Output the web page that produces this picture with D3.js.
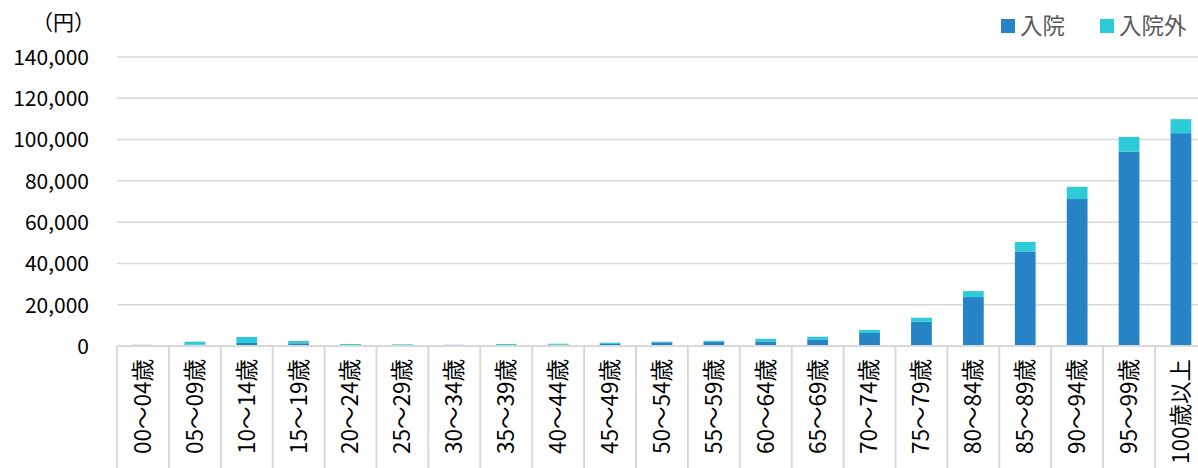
<!DOCTYPE html>
<html>
<head>
<meta charset="utf-8">
<script src="https://cdn.jsdelivr.net/npm/d3@7"></script>
<style>
  html, body { margin: 0; padding: 0; background: #fff; }
  svg { display: block; }
  text { font-family: "Noto Sans CJK JP", "Noto Sans", sans-serif; }
</style>
</head>
<body>
<svg id="chart" width="1198" height="468"></svg>
<script>
// Age groups
const categories = [
  "00～04歳", "05～09歳", "10～14歳", "15～19歳", "20～24歳", "25～29歳", "30～34歳",
  "35～39歳", "40～44歳", "45～49歳", "50～54歳", "55～59歳", "60～64歳", "65～69歳",
  "70～74歳", "75～79歳", "80～84歳", "85～89歳", "90～94歳", "95～99歳", "100歳以上"
];
// Inpatient amounts (円)
const inpatient = [
  100, 650, 1450, 1300, 500, 400, 300,
  500, 650, 970, 1800, 2100, 2200, 3200,
  6300, 11800, 23700, 45800, 71200, 94200, 103100
];
// Outpatient amounts (円)
const outpatient = [
  500, 1450, 2900, 1100, 470, 400, 300,
  470, 450, 630, 300, 450, 1300, 1300,
  1450, 1900, 2900, 4600, 5900, 7100, 6800
];
const yTicks = [0, 20000, 40000, 60000, 80000, 100000, 120000, 140000];
const seriesNames = ["入院", "入院外"];
const colors = ["#2683C6", "#2BCCD7"];

const svg = d3.select("#chart");
const plotLeft = 117, plotBottom = 346, plotTop = 57;
const step = 51.9;

const x = d3.scaleBand()
  .domain(categories)
  .range([plotLeft, plotLeft + step * categories.length])
  .paddingInner(0).paddingOuter(0);
const y = d3.scaleLinear().domain([0, 140000]).range([plotBottom, plotTop]);

// Horizontal gridlines
svg.append("g").selectAll("line")
  .data(yTicks.filter(d => d > 0))
  .join("line")
  .attr("x1", plotLeft).attr("x2", 1198)
  .attr("y1", d => y(d)).attr("y2", d => y(d))
  .attr("stroke", "#d9d9d9").attr("stroke-width", 1.5);

// Y axis labels
const yAxis = d3.axisLeft(y).tickValues(yTicks).tickSize(0).tickPadding(0)
  .tickFormat(d3.format(","));
const gy = svg.append("g").attr("transform", "translate(89,0)").call(yAxis);
gy.select(".domain").remove();
gy.selectAll("text")
  .attr("font-family", "'Noto Sans', sans-serif")
  .attr("font-size", 21).attr("fill", "#000").attr("dy", "0.35em");

// Unit label
svg.append("text")
  .attr("x", 95).attr("y", 30)
  .attr("text-anchor", "end")
  .attr("font-size", 21).attr("fill", "#000")
  .text("（円）");

// Stacked bars
const stackData = categories.map((c, i) => ({ cat: c, in: inpatient[i], out: outpatient[i] }));
const stack = d3.stack().keys(["in", "out"])(stackData);
const barW = x.bandwidth() * 0.4;
svg.append("g").selectAll("g")
  .data(stack)
  .join("g")
  .attr("fill", (d, i) => colors[i])
  .selectAll("rect")
  .data(d => d)
  .join("rect")
  .attr("x", d => x(d.data.cat) + (x.bandwidth() - barW) / 2)
  .attr("width", barW)
  .attr("y", d => y(d[1]))
  .attr("height", d => y(d[0]) - y(d[1]));

// X axis line and category separators
svg.append("line")
  .attr("x1", plotLeft).attr("x2", 1198)
  .attr("y1", plotBottom).attr("y2", plotBottom)
  .attr("stroke", "#d9d9d9").attr("stroke-width", 2);
svg.append("g").selectAll("line")
  .data(categories)
  .join("line")
  .attr("x1", d => x(d)).attr("x2", d => x(d))
  .attr("y1", plotBottom).attr("y2", 468)
  .attr("stroke", "#d9d9d9").attr("stroke-width", 2);

// Rotated category labels
svg.append("g").selectAll("text")
  .data(categories)
  .join("text")
  .attr("transform", d => `translate(${x(d) + x.bandwidth() / 2},359) rotate(-90)`)
  .attr("text-anchor", "end")
  .attr("dy", "0.35em")
  .attr("font-size", 22.5).attr("fill", "#000")
  .text(d => d);

// Legend
const legend = svg.append("g");
const legendX = [1001, 1100];
seriesNames.forEach((name, i) => {
  legend.append("rect")
    .attr("x", legendX[i]).attr("y", 19).attr("width", 14).attr("height", 14)
    .attr("fill", colors[i]);
  legend.append("text")
    .attr("x", legendX[i] + 19).attr("y", 26).attr("dy", "0.35em")
    .attr("font-size", 22.5).attr("fill", "#595959")
    .text(name);
});
</script>
</body>
</html>
